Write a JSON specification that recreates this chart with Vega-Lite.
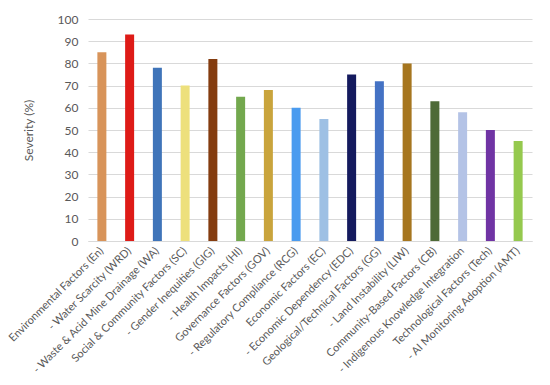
{
  "$schema": "https://vega.github.io/schema/vega-lite/v6.json",
  "width": 444,
  "height": 222,
  "autosize": {"type": "none"},
  "padding": {"left": 88, "top": 19, "right": 18, "bottom": 144},
  "background": "white",
  "data": {"values": [
    {"factor": "Environmental Factors (En)", "severity": 85, "color": "#D8945A"},
    {"factor": "- Water Scarcity (WRD)", "severity": 93, "color": "#DE1B17"},
    {"factor": "- Waste & Acid Mine Drainage (WA)", "severity": 78, "color": "#3F74B9"},
    {"factor": "Social & Community Factors (SC)", "severity": 70, "color": "#EDE07C"},
    {"factor": "- Gender Inequities (GIG)", "severity": 82, "color": "#843C0F"},
    {"factor": "- Health Impacts (HI)", "severity": 65, "color": "#73A84E"},
    {"factor": "Governance Factors (GOV)", "severity": 68, "color": "#C9A43C"},
    {"factor": "- Regulatory Compliance (RCG)", "severity": 60, "color": "#4A9BEF"},
    {"factor": "Economic Factors (EC)", "severity": 55, "color": "#9EC0E4"},
    {"factor": "- Economic Dependency (EDC)", "severity": 75, "color": "#141A5E"},
    {"factor": "Geological/Technical Factors (GG)", "severity": 72, "color": "#4472C4"},
    {"factor": "- Land Instability (LIW)", "severity": 80, "color": "#A6761F"},
    {"factor": "Community-Based Factors (CB)", "severity": 63, "color": "#4E6A37"},
    {"factor": "- Indigenous Knowledge Integration", "severity": 58, "color": "#B4C3E6"},
    {"factor": "Technological Factors (Tech)", "severity": 50, "color": "#7034A4"},
    {"factor": "- AI Monitoring Adoption (AMT)", "severity": 45, "color": "#95C94E"}
  ]},
  "mark": {"type": "bar", "size": 9},
  "encoding": {
    "x": {
      "field": "factor", "type": "nominal", "sort": null, "title": null,
      "axis": {
        "labelAngle": -45, "labelAlign": "right", "labelBaseline": "middle",
        "labelFont": "Lato", "labelFontSize": 11, "labelColor": "#595959",
        "labelPadding": 8, "ticks": false, "domainColor": "#D9D9D9",
        "labelOverlap": false, "labelLimit": 300
      }
    },
    "y": {
      "field": "severity", "type": "quantitative", "title": "Severity (%)",
      "scale": {"domain": [0, 100]},
      "axis": {
        "values": [0,10,20,30,40,50,60,70,80,90,100],
        "labelFont": "Lato", "labelFontSize": 12, "labelColor": "#595959",
        "titleFont": "Lato", "titleFontSize": 12, "titleColor": "#595959", "titleFontWeight": "normal",
        "titlePadding": 22, "labelPadding": 10,
        "ticks": false, "domain": false, "gridColor": "#D9D9D9"
      }
    },
    "color": {"field": "color", "type": "nominal", "scale": null, "legend": null}
  },
  "config": {"view": {"stroke": null}}
}
